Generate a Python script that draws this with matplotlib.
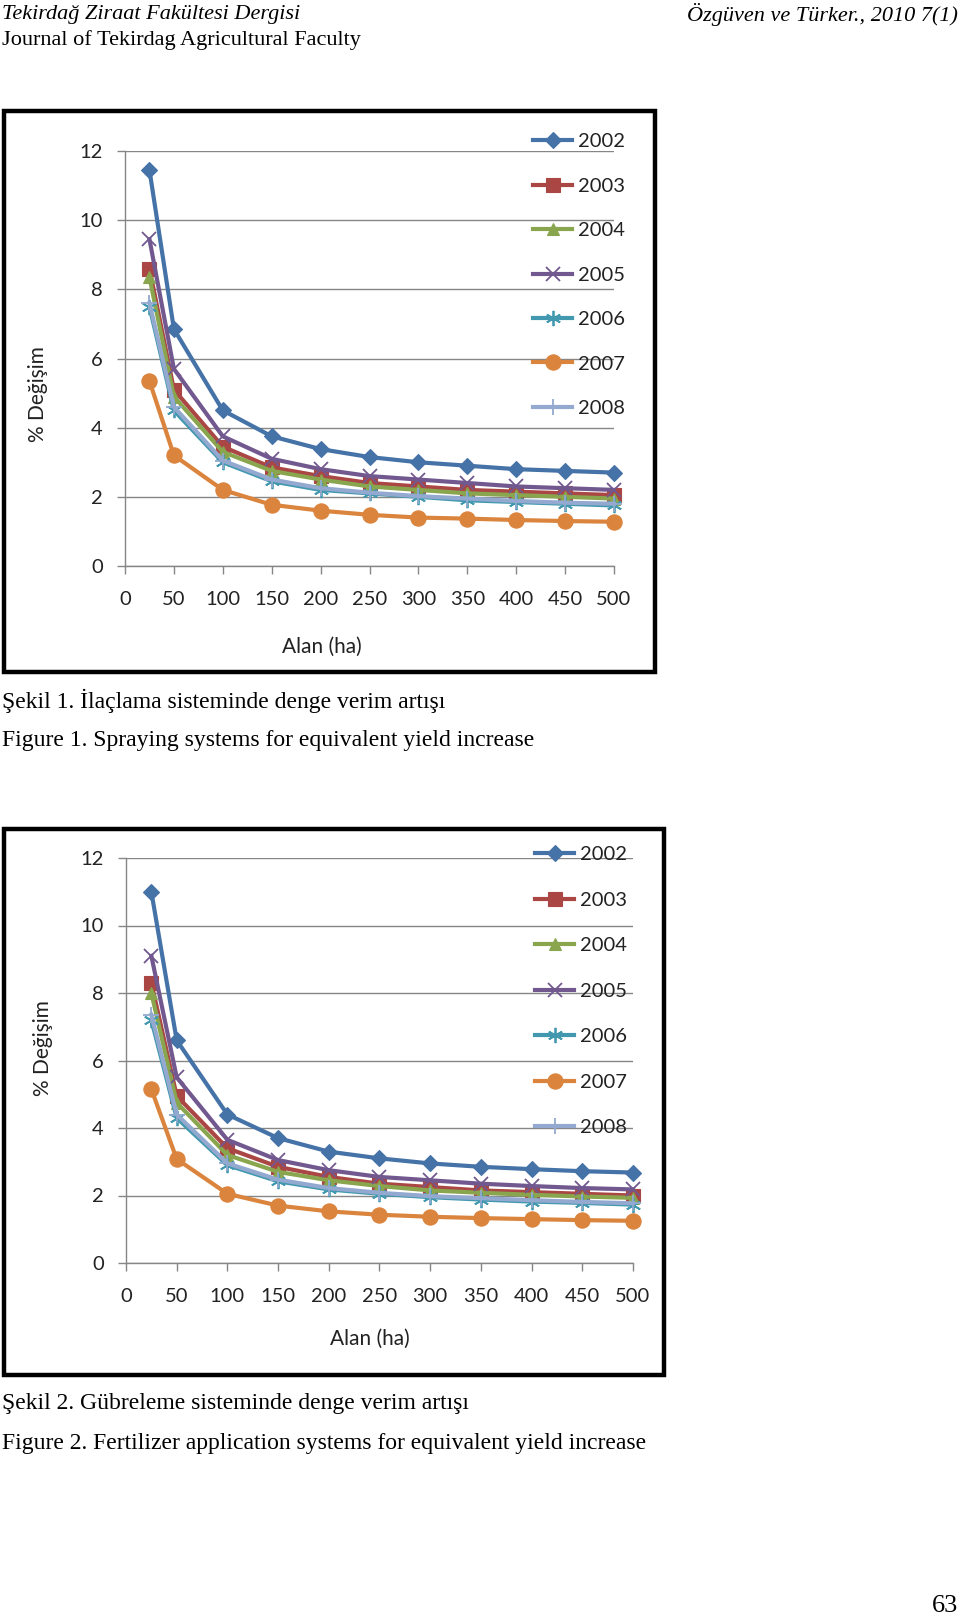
import matplotlib
matplotlib.use("Agg")
import matplotlib.pyplot as plt
from matplotlib.patches import Rectangle

W, H = 960, 1618

# data
alan = [25, 50, 100, 150, 200, 250, 300, 350, 400, 450, 500]
years = ['2002', '2003', '2004', '2005', '2006', '2007', '2008']

sekil1 = {
    '2002': [11.45, 6.85, 4.5, 3.75, 3.38, 3.15, 3.0, 2.9, 2.8, 2.75, 2.7],
    '2003': [8.6, 5.1, 3.45, 2.85, 2.6, 2.4, 2.3, 2.2, 2.15, 2.1, 2.05],
    '2004': [8.35, 4.9, 3.3, 2.75, 2.5, 2.3, 2.2, 2.1, 2.05, 2.0, 1.95],
    '2005': [9.45, 5.7, 3.75, 3.1, 2.8, 2.6, 2.5, 2.4, 2.3, 2.25, 2.2],
    '2006': [7.5, 4.5, 3.0, 2.45, 2.2, 2.1, 2.0, 1.9, 1.85, 1.8, 1.75],
    '2007': [5.35, 3.2, 2.2, 1.77, 1.6, 1.48, 1.4, 1.37, 1.33, 1.3, 1.28],
    '2008': [7.6, 4.6, 3.05, 2.5, 2.25, 2.12, 2.02, 1.95, 1.88, 1.83, 1.8],
}
sekil2 = {
    '2002': [11.0, 6.6, 4.4, 3.7, 3.3, 3.1, 2.95, 2.85, 2.78, 2.72, 2.68],
    '2003': [8.3, 4.95, 3.4, 2.85, 2.55, 2.35, 2.25, 2.15, 2.1, 2.05, 2.0],
    '2004': [8.0, 4.75, 3.2, 2.7, 2.45, 2.28, 2.15, 2.08, 2.02, 1.97, 1.93],
    '2005': [9.1, 5.5, 3.65, 3.05, 2.75, 2.55, 2.45, 2.35, 2.28, 2.22, 2.18],
    '2006': [7.2, 4.3, 2.9, 2.42, 2.18, 2.05, 1.95, 1.88, 1.82, 1.78, 1.73],
    '2007': [5.15, 3.08, 2.05, 1.7, 1.53, 1.43, 1.37, 1.33, 1.3, 1.27, 1.25],
    '2008': [7.35, 4.4, 2.95, 2.47, 2.22, 2.08, 1.98, 1.92, 1.86, 1.81, 1.77],
}

xticks = [0, 50, 100, 150, 200, 250, 300, 350, 400, 450, 500]
yticks = [0, 2, 4, 6, 8, 10, 12]

# excel 2007 style
colors = ['#4572A7', '#AA4643', '#89A54E', '#71588F', '#4198AF', '#DB843D', '#93A9CF']
markers = ['D', 's', '^', 'x', (6, 2, 0), 'o', '+']
msizes = [8, 10, 9, 10, 11, 11, 12]

chart_font = 'Lato'
serif = 'Liberation Serif'


def fx(px):
    return px / W


def fy(py):
    return 1 - py / H


fig = plt.figure(figsize=(W / 100, H / 100), dpi=100)


def make_chart(data, frame, plot, ylab_xy, xlab_xy, leg_xy, leg_space):
    # frame (left, top, right, bottom) in pixels
    l, t, r, b = frame
    fig.patches.append(Rectangle((fx(l), fy(b)), fx(r - l), (b - t) / H,
                                 transform=fig.transFigure, fill=False,
                                 edgecolor='black', linewidth=3.2))
    pl, pt, pr, pb = plot
    ax = fig.add_axes([fx(pl), fy(pb), fx(pr - pl), (pb - pt) / H])
    for i, yr in enumerate(years):
        thin = markers[i] in ('x', '+') or isinstance(markers[i], tuple)
        ax.plot(alan, data[yr], color=colors[i], linewidth=3.0,
                marker=markers[i], markersize=msizes[i],
                markeredgewidth=1.3 if thin else 0.8,
                markeredgecolor=colors[i], label=yr, clip_on=False)
    ax.set_xlim(0, 500)
    ax.set_ylim(0, 12)
    ax.set_xticks(xticks)
    ax.set_yticks(yticks)
    ax.grid(axis='y', color='#868686', linewidth=1.0)
    ax.set_axisbelow(True)
    for s in ['top', 'right']:
        ax.spines[s].set_visible(False)
    for s in ['left', 'bottom']:
        ax.spines[s].set_color('#868686')
        ax.spines[s].set_linewidth(1.0)
    ax.tick_params(axis='both', direction='out', length=6, color='#868686',
                   labelsize=14.5, labelcolor='#222222', width=1.0)
    ax.tick_params(axis='x', pad=12)
    ax.tick_params(axis='y', pad=10)
    for lab in ax.get_xticklabels() + ax.get_yticklabels():
        lab.set_family(chart_font)
    fig.text(fx(ylab_xy[0]), fy(ylab_xy[1]), '% Değişim', rotation=90,
             ha='center', va='center', fontsize=15, family=chart_font, color='#222222')
    fig.text(fx(xlab_xy[0]), fy(xlab_xy[1]), 'Alan (ha)',
             ha='center', va='center', fontsize=15, family=chart_font, color='#222222')
    leg = ax.legend(loc='upper left', bbox_to_anchor=(fx(leg_xy[0]), fy(leg_xy[1])),
                    bbox_transform=fig.transFigure, frameon=False,
                    prop={'family': chart_font, 'size': 14.5},
                    handlelength=1.95, handletextpad=0.3, labelspacing=leg_space,
                    borderpad=0, borderaxespad=0)
    for txt in leg.get_texts():
        txt.set_color('#222222')
    return ax


make_chart(sekil1, (4, 111, 655, 672), (125, 151, 614, 566),
           (38, 394), (322, 647), (533, 133), 1.36)
make_chart(sekil2, (4, 829, 664, 1375), (126, 858, 633, 1263),
           (43, 1048), (370, 1339), (535, 846), 1.41)

# page text
fig.text(fx(2), fy(14), 'Tekirdağ Ziraat Fakültesi Dergisi', ha='left', va='center',
         fontsize=16, family=serif, style='italic')
fig.text(fx(2), fy(40), 'Journal of Tekirdag Agricultural Faculty', ha='left', va='center',
         fontsize=16, family=serif)
fig.text(fx(958), fy(14), 'Özgüven ve Türker., 2010 7(1)', ha='right', va='center',
         fontsize=16, family=serif, style='italic')
fig.text(fx(2), fy(701), 'Şekil 1. İlaçlama sisteminde denge verim artışı', ha='left', va='center',
         fontsize=17, family=serif)
fig.text(fx(2), fy(741), 'Figure 1. Spraying systems for equivalent yield increase', ha='left', va='center',
         fontsize=17, family=serif)
fig.text(fx(2), fy(1404), 'Şekil 2. Gübreleme sisteminde denge verim artışı', ha='left', va='center',
         fontsize=17, family=serif)
fig.text(fx(2), fy(1444), 'Figure 2. Fertilizer application systems for equivalent yield increase', ha='left', va='center',
         fontsize=17, family=serif)
fig.text(fx(958), fy(1606), '63', ha='right', va='center', fontsize=19, family=serif)

fig.savefig('out.png', dpi=100)
